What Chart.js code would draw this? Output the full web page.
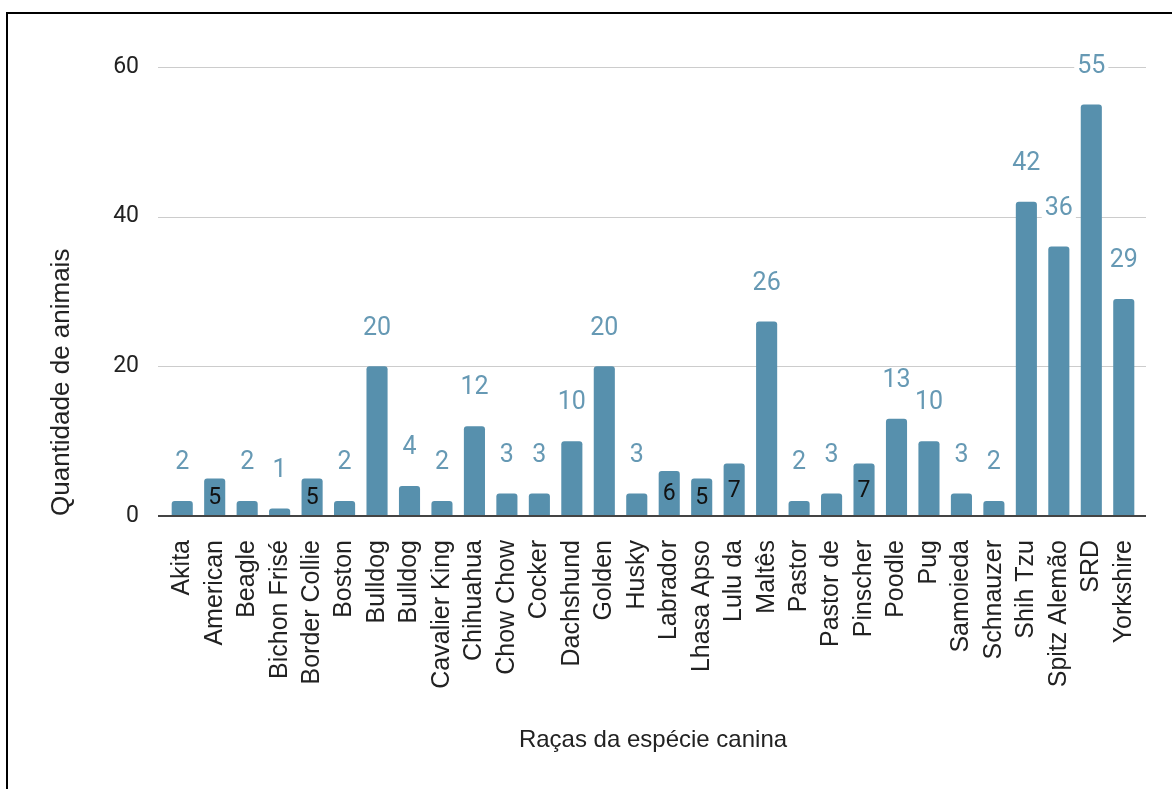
<!DOCTYPE html>
<html>
<head>
<meta charset="utf-8">
<title>Raças da espécie canina</title>
<script src="https://cdn.jsdelivr.net/npm/chart.js@4.4.1/dist/chart.umd.min.js"></script>
<style>
  html, body { margin: 0; padding: 0; background: #fff; overflow: hidden; }
  .frame { position: absolute; left: 6px; top: 12px; width: 1200px; height: 800px; border: 2px solid #000; }
  .wrap { position: absolute; left: 0; top: 0; width: 1172px; height: 789px; }
</style>
</head>
<body>
<div class="frame"></div>
<div class="wrap"><canvas id="chart"></canvas></div>
<script>
// breeds and how many animals of each
const breeds = [
  'Akita', 'American', 'Beagle', 'Bichon Frisé', 'Border Collie', 'Boston',
  'Bulldog', 'Bulldog', 'Cavalier King', 'Chihuahua', 'Chow Chow', 'Cocker',
  'Dachshund', 'Golden', 'Husky', 'Labrador', 'Lhasa Apso', 'Lulu da',
  'Maltês', 'Pastor', 'Pastor de', 'Pinscher', 'Poodle', 'Pug',
  'Samoieda', 'Schnauzer', 'Shih Tzu', 'Spitz Alemão', 'SRD', 'Yorkshire'
];
const counts = [
  2, 5, 2, 1, 5, 2,
  20, 4, 2, 12, 3, 3,
  10, 20, 3, 6, 5, 7,
  26, 2, 3, 7, 13, 10,
  3, 2, 42, 36, 55, 29
];
const yTicks = [0, 20, 40, 60];

const BAR = '#5790ad';
const LABEL = '#6699b4';
const TEXT = '#222';

// horizontal rules, a bit wider than the plot area
const gridLines = {
  id: 'gridLines',
  beforeDatasetsDraw(chart) {
    const { ctx, chartArea, scales } = chart;
    ctx.save();
    ctx.strokeStyle = '#cccccc';
    ctx.lineWidth = 1;
    yTicks.forEach(t => {
      if (t === 0) return;
      const y = Math.round(scales.y.getPixelForValue(t)) + 0.5;
      ctx.beginPath();
      ctx.moveTo(chartArea.left - 8, y);
      ctx.lineTo(chartArea.right + 6, y);
      ctx.stroke();
    });
    ctx.restore();
  },
  afterDatasetsDraw(chart) {
    const { ctx, chartArea, scales } = chart;
    const y = Math.round(scales.y.getPixelForValue(0));
    ctx.save();
    ctx.strokeStyle = '#444';
    ctx.lineWidth = 2;
    ctx.beginPath();
    ctx.moveTo(chartArea.left - 8, y);
    ctx.lineTo(chartArea.right + 6, y);
    ctx.stroke();
    ctx.restore();
  }
};

// value annotations: small bars get it inside, the rest above
const valueLabels = {
  id: 'valueLabels',
  afterDatasetsDraw(chart) {
    const { ctx } = chart;
    const meta = chart.getDatasetMeta(0);
    ctx.save();
    ctx.textAlign = 'center';
    ctx.textBaseline = 'middle';
    meta.data.forEach((bar, i) => {
      const v = counts[i];
      const txt = String(v);
      if (v >= 5 && v <= 9) {
        ctx.font = '23px Roboto';
        ctx.fillStyle = '#111';
        ctx.fillText(txt, bar.x, (bar.y + bar.base) / 2 + 1);
      } else {
        ctx.font = '25px Roboto';
        const w = ctx.measureText(txt).width;
        const cy = bar.y - 38;
        ctx.fillStyle = '#fff';
        ctx.fillRect(bar.x - w / 2 - 3, cy - 11, w + 6, 22);
        ctx.fillStyle = LABEL;
        ctx.fillText(txt, bar.x, cy);
      }
    });
    ctx.restore();
  }
};

new Chart(document.getElementById('chart'), {
  type: 'bar',
  data: {
    labels: breeds,
    datasets: [{
      data: counts,
      backgroundColor: BAR,
      borderRadius: 3,
      barPercentage: 0.65,
      categoryPercentage: 1
    }]
  },
  options: {
    responsive: true,
    maintainAspectRatio: false,
    animation: false,
    layout: { padding: { left: 0, right: 32, top: 67, bottom: 0 } },
    plugins: {
      legend: { display: false },
      tooltip: { enabled: false }
    },
    scales: {
      x: {
        grid: { display: false },
        border: { display: false },
        ticks: {
          autoSkip: false,
          minRotation: 90,
          maxRotation: 90,
          padding: 16,
          color: TEXT,
          font: { family: 'Liberation Sans', size: 25 }
        },
        title: {
          display: true,
          text: 'Raças da espécie canina',
          color: TEXT,
          font: { family: 'Liberation Sans', size: 24 },
          padding: { top: 0, bottom: 34 }
        },
        afterFit(scale) { scale.height = 273; }
      },
      y: {
        min: 0,
        max: 60,
        grid: { display: false },
        border: { display: false },
        ticks: {
          stepSize: 20,
          padding: 19,
          color: TEXT,
          font: { family: 'Roboto', size: 23 }
        },
        title: {
          display: true,
          text: 'Quantidade de animais',
          align: 'start',
          color: TEXT,
          font: { family: 'Liberation Sans', size: 26 },
          padding: { top: 46, bottom: 0 }
        },
        afterFit(scale) { scale.width = 166; }
      }
    }
  },
  plugins: [gridLines, valueLabels]
});
</script>
</body>
</html>
